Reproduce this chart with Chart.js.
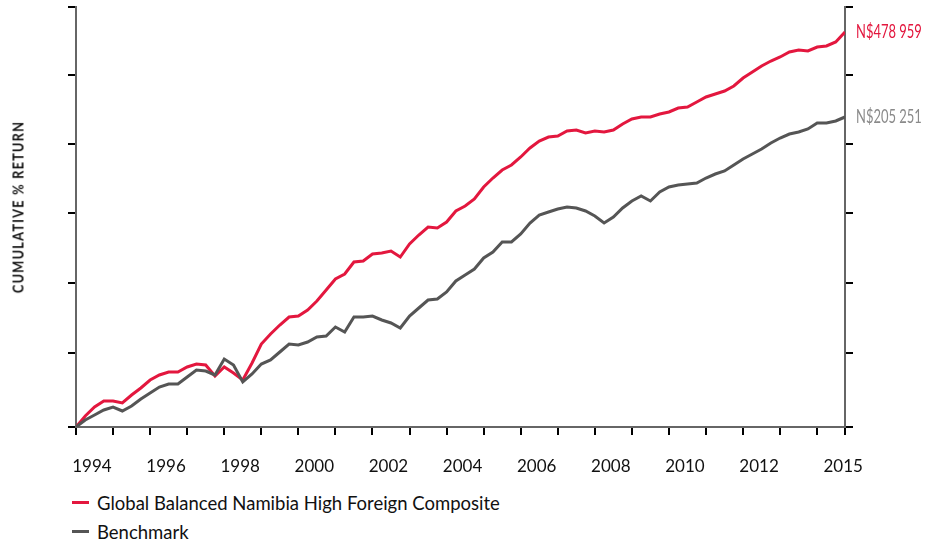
<!DOCTYPE html>
<html>
<head>
<meta charset="utf-8">
<script src="https://cdn.jsdelivr.net/npm/chart.js@4.4.1/dist/chart.umd.min.js"></script>
<style>
    html, body { margin: 0; padding: 0; background: #fff; }
    #wrap { position: relative; width: 925px; height: 546px; overflow: hidden; }
    #chart { position: absolute; left: 0; top: 0; }
    #ytitle {
        position: absolute; left: 17px; top: 207px;
        transform: translate(-50%, -50%) rotate(-90deg) scaleX(0.8);
        font: bold 16px Lato, sans-serif;
        letter-spacing: 1.5px; white-space: nowrap; color: #111;
    }
    #legend { position: absolute; left: 72px; top: 488px; font: 18.5px Lato, sans-serif; color: #111; }
    .item { display: flex; align-items: center; height: 29px; }
    .swatch { width: 17px; height: 3px; margin-right: 8px; }
</style>
</head>
<body>
<div id="wrap">
    <canvas id="chart" width="925" height="480"></canvas>
    <div id="ytitle">CUMULATIVE % RETURN</div>
    <div id="legend"></div>
</div>
<script>
// Quarterly values, first quarter = 1994 (unlabelled axis units)
const startYear = 1994;
const fundName = "Global Balanced Namibia High Foreign Composite";
const benchName = "Benchmark";
const fundValues = [
    0, 11, 20, 26, 26, 24, 32, 39, 47, 52,
    55, 55, 60, 63, 62, 51, 60, 54, 47, 64,
    83, 93, 102, 110, 111, 117, 126, 137, 148, 153,
    165, 166, 173, 174, 176, 170, 183, 192, 200, 199,
    205, 216, 221, 228, 240, 249, 257, 262, 270, 279,
    286, 290, 291, 296, 297, 294, 296, 295, 297, 303,
    308, 310, 310, 313, 315, 319, 320, 325, 330, 333,
    336, 341, 349, 355, 361, 366, 370, 375, 377, 376,
    380, 381, 385, 395
];
const benchValues = [
    0, 7, 12, 17, 20, 16, 21, 28, 34, 40,
    43, 43, 50, 57, 56, 52, 68, 62, 45, 53,
    63, 67, 75, 83, 82, 85, 90, 91, 100, 95,
    110, 110, 111, 107, 104, 99, 111, 119, 127, 128,
    135, 146, 152, 158, 169, 175, 185, 185, 193, 204,
    212, 215, 218, 220, 219, 216, 211, 204, 210, 219,
    226, 231, 226, 235, 240, 242, 243, 244, 249, 253,
    256, 262, 268, 273, 278, 284, 289, 293, 295, 298,
    304, 304, 306, 310
];
const fundEndLabel = "N$478 959";
const benchEndLabel = "N$205 251";

// Axis ticks
const tickYears = [1994, 1995, 1996, 1997, 1998, 1999, 2000, 2001, 2002, 2003, 2004,
    2005, 2006, 2007, 2008, 2009, 2010, 2011, 2012, 2013, 2014, 2014.75];
const yearLabels = ["1994", "1996", "1998", "2000", "2002", "2004", "2006", "2008", "2010", "2012", "2015"];
const labelYears = [1994.43, 1996.43, 1998.43, 2000.43, 2002.43, 2004.43, 2006.43, 2008.43, 2010.43, 2012.43, 2014.7];
const yTicks = [0, 74, 144, 214, 283, 352, 420];

const RED = "#e3173e";
const GREY = "#555555";

const toPoints = (vals) => vals.map((v, i) => ({ x: startYear + i / 4, y: v }));

// Value labels at the end of each line (squeezed, the original face is condensed)
const endLabels = {
    id: "endLabels",
    afterDatasetsDraw(chart) {
        const { ctx, chartArea, scales } = chart;
        chart.data.datasets.forEach(ds => {
            const last = ds.data[ds.data.length - 1];
            ctx.save();
            ctx.translate(chartArea.right + 11, scales.y.getPixelForValue(last.y));
            ctx.scale(0.7, 1);
            ctx.font = "18.5px Lato, sans-serif";
            ctx.textBaseline = "middle";
            ctx.textAlign = "left";
            ctx.fillStyle = ds.endColor;
            ctx.fillText(ds.endLabel, 0, 0);
            ctx.restore();
        });
    }
};

const tickMarks = {
    drawOnChartArea: false,
    drawTicks: true,
    tickLength: 8,
    color: "#000",
    lineWidth: 2
};

new Chart(document.getElementById("chart"), {
    type: "line",
    data: {
        datasets: [
            {
                label: benchName,
                data: toPoints(benchValues),
                borderColor: GREY,
                borderWidth: 3,
                pointRadius: 0,
                tension: 0,
                order: 0,
                endLabel: benchEndLabel,
                endColor: "#8a8a8a"
            },
            {
                label: fundName,
                data: toPoints(fundValues),
                borderColor: RED,
                borderWidth: 3,
                pointRadius: 0,
                tension: 0,
                order: 1,
                endLabel: fundEndLabel,
                endColor: RED
            }
        ]
    },
    options: {
        responsive: false,
        animation: false,
        layout: { padding: { top: 7, left: 0, right: 0, bottom: 0 } },
        plugins: {
            legend: { display: false },
            tooltip: { enabled: false }
        },
        scales: {
            x: {
                type: "linear",
                position: "bottom",
                weight: 0,
                min: 1994,
                max: 2014.75,
                afterBuildTicks: s => { s.ticks = tickYears.map(v => ({ value: v })); },
                afterFit: s => { s.height = 9; },
                grid: tickMarks,
                border: { display: true, color: "#666", width: 2 },
                ticks: { display: false }
            },
            xl: {
                type: "linear",
                position: "bottom",
                weight: 1,
                min: 1994,
                max: 2014.75,
                afterBuildTicks: s => { s.ticks = labelYears.map(v => ({ value: v })); },
                afterFit: s => { s.height = 44; },
                grid: { display: false },
                border: { display: false },
                ticks: {
                    autoSkip: false,
                    maxRotation: 0,
                    padding: 12,
                    color: "#111",
                    font: { family: "Lato, sans-serif", size: 17 },
                    callback: (v, i) => yearLabels[i]
                }
            },
            y: {
                position: "left",
                min: 0,
                max: 420,
                afterBuildTicks: s => { s.ticks = yTicks.map(v => ({ value: v })); },
                afterFit: s => { s.width = 76; },
                grid: tickMarks,
                border: { color: "#666", width: 2 },
                ticks: { display: false }
            },
            yr: {
                position: "right",
                min: 0,
                max: 420,
                afterBuildTicks: s => { s.ticks = yTicks.map(v => ({ value: v })); },
                afterFit: s => { s.width = 80; },
                grid: tickMarks,
                border: { color: "#666", width: 2 },
                ticks: { display: false }
            }
        }
    },
    plugins: [endLabels]
});

// Legend, one item per row
const legend = document.getElementById("legend");
[[fundName, RED], [benchName, GREY]].forEach(([name, color]) => {
    const row = document.createElement("div");
    row.className = "item";
    row.innerHTML = '<span class="swatch" style="background:' + color + '"></span><span>' + name + '</span>';
    legend.appendChild(row);
});
</script>
</body>
</html>
